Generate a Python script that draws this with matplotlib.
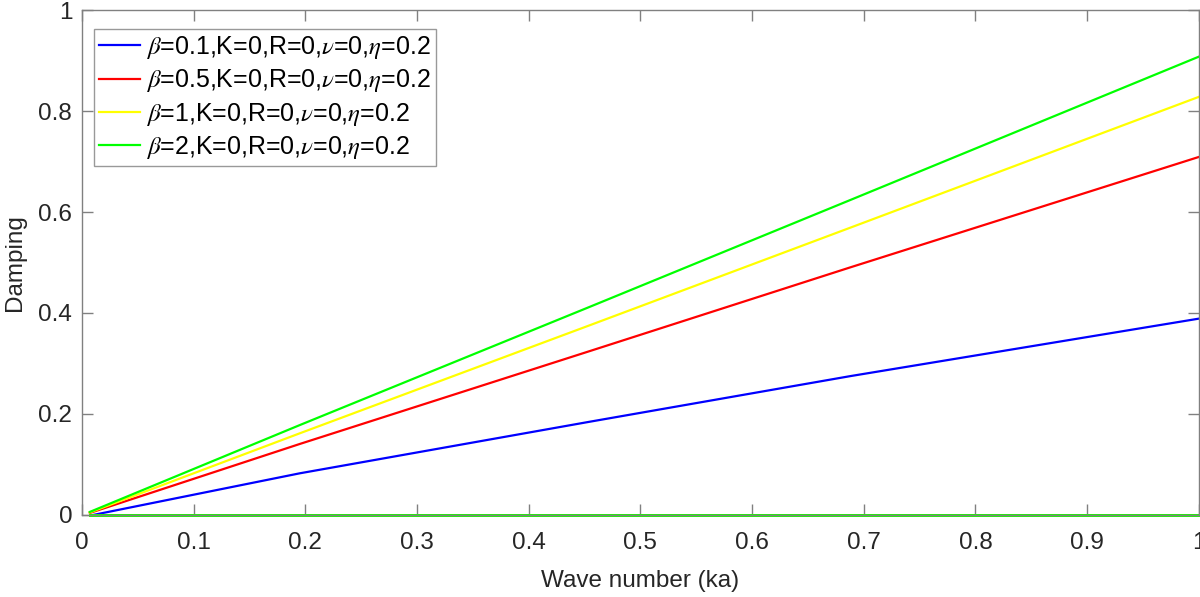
import matplotlib
matplotlib.use("Agg")
import matplotlib.pyplot as plt

plt.rcParams['font.family'] = ['Liberation Sans', 'DejaVu Sans']
plt.rcParams['mathtext.fontset'] = 'stix'

# Wave number samples and damping values
k = [0.007, 0.195, 0.455, 0.688, 1.0]
k_blue = [0.010, 0.195, 0.455, 0.688, 1.0]
d_b01 = [0.0, 0.0825, 0.1848, 0.275, 0.3888]
d_b05 = [0.004, 0.1406, 0.3248, 0.4904, 0.709]
d_b1 = [0.005, 0.1617, 0.376, 0.569, 0.828]
d_b2 = [0.006, 0.178, 0.4125, 0.6238, 0.9076]
k_zero = [0.007, 1.0]
d_zero = [0.0, 0.0]

labels = [r'$\beta$=0.1,K=0,R=0,$\nu$=0,$\eta$=0.2',
          r'$\beta$=0.5,K=0,R=0,$\nu$=0,$\eta$=0.2',
          r'$\beta$=1,K=0,R=0,$\nu$=0,$\eta$=0.2',
          r'$\beta$=2,K=0,R=0,$\nu$=0,$\eta$=0.2']
colors = ['#0000ff', '#ff0000', '#ffff00', '#00ff00']
xticks = [0, 0.1, 0.2, 0.3, 0.4, 0.5, 0.6, 0.7, 0.8, 0.9, 1]
xticklabels = ['0', '0.1', '0.2', '0.3', '0.4', '0.5', '0.6', '0.7', '0.8', '0.9', '1']
yticks = [0, 0.2, 0.4, 0.6, 0.8, 1]
yticklabels = ['0', '0.2', '0.4', '0.6', '0.8', '1']

fig = plt.figure(figsize=(12, 5.97), dpi=100)
ax = fig.add_axes([0.0683, 0.1374, 0.9307, 0.8458])

series = [(k_blue, d_b01), (k, d_b05), (k, d_b1), (k, d_b2)]
lines = []
for (xs, ys), c, lab in zip(series, colors, labels):
    ln, = ax.plot(xs, ys, color=c, lw=1.6, label=lab)
    lines.append(ln)
for c in colors:
    ax.plot(k_zero, d_zero, color=c, lw=2.0, clip_on=False)

ax.set_xlim(0, 1)
ax.set_ylim(0, 1)
ax.set_xticks(xticks)
ax.set_xticklabels(xticklabels)
ax.set_yticks(yticks)
ax.set_yticklabels(yticklabels)
axcol = '#808080'
txtcol = '#262626'
for s in ax.spines.values():
    s.set_color(axcol)
    s.set_linewidth(1.0)
ax.tick_params(direction='in', length=8, width=1.0, color=axcol, labelcolor=txtcol,
               labelsize=17.5, top=True, right=True)
ax.tick_params(axis='x', pad=12)
ax.tick_params(axis='y', pad=7)
ax.set_xlabel('Wave number (ka)', fontsize=17.5, color=txtcol, labelpad=12)
ax.set_ylabel('Damping', fontsize=17.5, color=txtcol, labelpad=9)

leg = ax.legend(handles=lines, loc='upper left', bbox_to_anchor=(0.0107, 0.962),
                fontsize=18, frameon=True, fancybox=False, handlelength=1.65,
                handletextpad=0.25, borderpad=0.2, labelspacing=0.25, borderaxespad=0)
leg.get_frame().set_edgecolor('#808080')
leg.get_frame().set_linewidth(1.0)
for t in leg.get_texts():
    t.set_color('black')

fig.savefig('out.png', dpi=100)
